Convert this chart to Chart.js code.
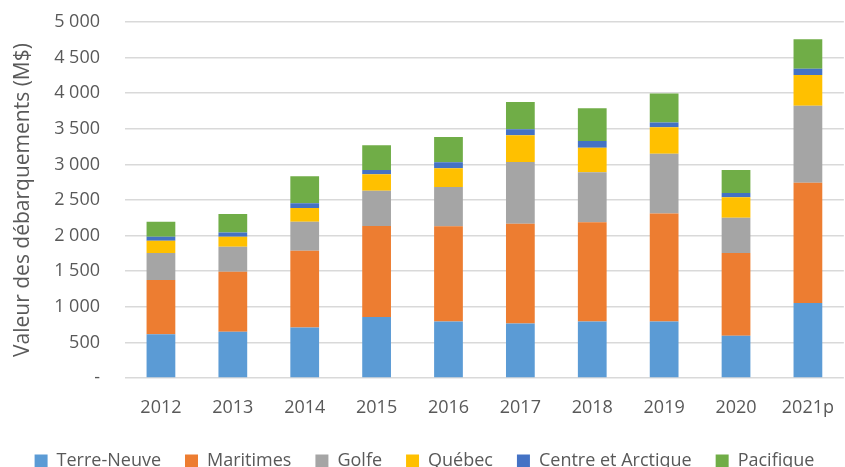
<!DOCTYPE html>
<html>
<head>
<meta charset="utf-8">
<script src="https://cdn.jsdelivr.net/npm/chart.js@4"></script>
<style>
  html, body { margin: 0; padding: 0; background: #fff; }
  #wrap { width: 845px; height: 467px; }
</style>
</head>
<body>
<div id="wrap"><canvas id="landingsChart"></canvas></div>
<script>
// Valeur des débarquements par région (M$)
const years = ['2012', '2013', '2014', '2015', '2016', '2017', '2018', '2019', '2020', '2021p'];
const terreNeuve = [616, 649, 709, 855, 793, 765, 793, 793, 593, 1055];
const maritimes = [760, 844, 1078, 1280, 1340, 1400, 1396, 1517, 1162, 1689];
const golfe = [379, 350, 406, 495, 551, 868, 700, 840, 494, 1078];
const quebec = [173, 141, 196, 230, 261, 378, 345, 373, 290, 434];
const centreArctique = [56, 60, 66, 60, 84, 84, 93, 66, 60, 89];
const pacifique = [210, 261, 378, 350, 355, 383, 462, 406, 322, 411];

const FONT = '"Open Sans", Lato, sans-serif';
const TEXT = '#595959';

const ctx = document.getElementById('landingsChart').getContext('2d');

const series = [
  { label: 'Terre-Neuve', data: terreNeuve, color: '#5B9BD5' },
  { label: 'Maritimes', data: maritimes, color: '#ED7D31' },
  { label: 'Golfe', data: golfe, color: '#A5A5A5' },
  { label: 'Québec', data: quebec, color: '#FFC000' },
  { label: 'Centre et Arctique', data: centreArctique, color: '#4472C4' },
  { label: 'Pacifique', data: pacifique, color: '#70AD47' }
];

// pull the legend row closer to the bottom edge
const legendShift = {
  id: 'legendShift',
  beforeInit(chart) {
    const fit = chart.legend.fit;
    chart.legend.fit = function () {
      fit.bind(chart.legend)();
      this.height -= 13;
    };
  }
};

new Chart(ctx, {
  type: 'bar',
  data: {
    labels: years,
    datasets: series.map(s => ({
      label: s.label,
      data: s.data,
      backgroundColor: s.color,
      borderWidth: 0,
      barPercentage: 0.4,
      categoryPercentage: 1
    }))
  },
  plugins: [legendShift],
  options: {
    responsive: true,
    maintainAspectRatio: false,
    animation: false,
    layout: {
      padding: { top: 22, right: -4, left: 0, bottom: 0 }
    },
    plugins: {
      legend: {
        position: 'bottom',
        labels: {
          boxWidth: 13,
          boxHeight: 13,
          padding: 24,
          color: TEXT,
          font: { family: FONT, size: 18 }
        }
      },
      tooltip: { enabled: false }
    },
    scales: {
      x: {
        stacked: true,
        grid: { display: false },
        border: { display: false },
        afterFit: scale => { scale.height = 50; },
        ticks: {
          color: TEXT,
          padding: 11,
          font: { family: FONT, size: 18 }
        }
      },
      y: {
        stacked: true,
        min: 0,
        max: 5000,
        afterFit: scale => { scale.width = 125; },
        grid: {
          color: '#d9d9d9',
          lineWidth: 1.5,
          tickLength: 25,
          tickColor: 'rgba(0,0,0,0)'
        },
        border: { display: false },
        ticks: {
          stepSize: 500,
          color: TEXT,
          padding: 0,
          font: { family: FONT, size: 18 },
          callback: v => v === 0 ? '-' : String(v).replace(/\B(?=(\d{3})+(?!\d))/g, ' ')
        },
        title: {
          display: true,
          text: 'Valeur des débarquements (M$)',
          color: TEXT,
          padding: { top: 10, bottom: 0 },
          font: { family: FONT, size: 21 }
        }
      }
    }
  }
});
</script>
</body>
</html>
